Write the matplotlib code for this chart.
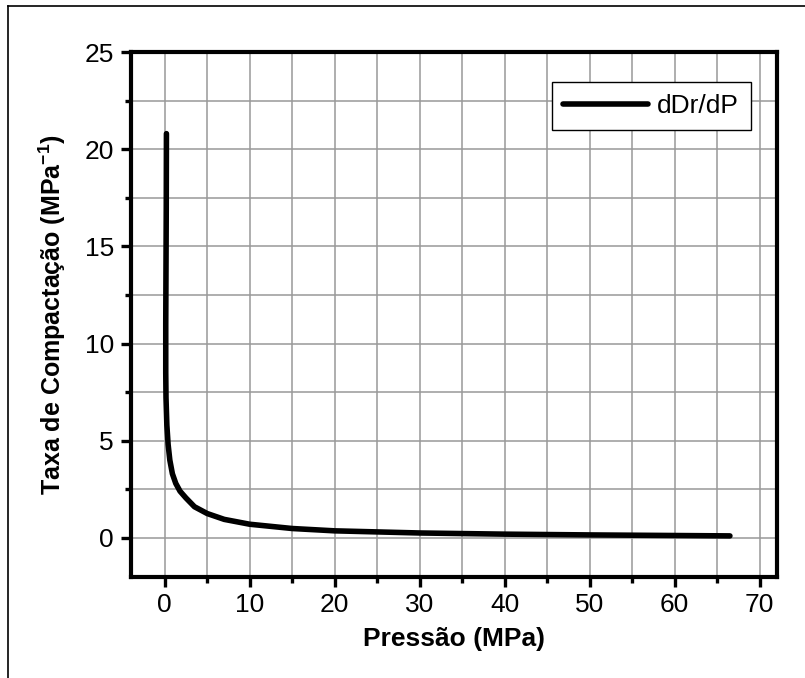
import matplotlib
matplotlib.use("Agg")
import matplotlib.pyplot as plt
from matplotlib.lines import Line2D
from matplotlib.ticker import MultipleLocator

plt.rcParams['font.family'] = ['Liberation Sans', 'DejaVu Sans']
plt.rcParams['mathtext.fontset'] = 'custom'
plt.rcParams['mathtext.rm'] = 'Liberation Sans'
plt.rcParams['mathtext.bf'] = 'Liberation Sans:bold'

# Data
pressure = [0.2, 0.18, 0.15, 0.12, 0.12, 0.15, 0.25, 0.4, 0.6, 0.9, 1.3, 1.8,
            2.5, 3.5, 5.0, 7.0, 10.0, 15.0, 20.0, 30.0, 40.0, 50.0, 60.0, 66.5]
rate = [20.8, 17.0, 14.0, 11.0, 8.5, 7.2, 5.8, 4.8, 4.0, 3.3, 2.8, 2.4,
        2.05, 1.6, 1.25, 0.95, 0.7, 0.48, 0.36, 0.25, 0.19, 0.15, 0.12, 0.1]
series_label = "dDr/dP"
xlabel = "Pressão (MPa)"
ylabel = r"Taxa de Compactação (MPa$^{\mathbf{-1}}$)"

fig = plt.figure(figsize=(8.05, 6.78), dpi=100)
ax = fig.add_axes([0.1624, 0.1494, 0.8024, 0.7739])

ax.plot(pressure, rate, color='black', lw=4, solid_capstyle='round',
        solid_joinstyle='round', label=series_label, zorder=3)

ax.set_xlim(-4, 72)
ax.set_ylim(-2, 25)
ax.xaxis.set_major_locator(MultipleLocator(10))
ax.xaxis.set_minor_locator(MultipleLocator(5))
ax.yaxis.set_major_locator(MultipleLocator(5))
ax.yaxis.set_minor_locator(MultipleLocator(2.5))
ax.grid(True, which='both', color='#999999', lw=1.1, zorder=0)
ax.set_axisbelow(True)

for s in ax.spines.values():
    s.set_linewidth(3)
ax.tick_params(which='major', direction='out', length=7, width=2.4, labelsize=19,
               pad=5, top=False, right=False)
ax.tick_params(which='minor', direction='out', length=4, width=2.4,
               top=False, right=False)

ax.set_xlabel(xlabel, fontsize=19, fontweight='bold', labelpad=7)
ax.set_ylabel(ylabel, fontsize=18, fontweight='bold', labelpad=12)

leg = ax.legend(loc='upper right', bbox_to_anchor=(0.96, 0.943), fontsize=19,
                frameon=True, fancybox=False, edgecolor='black', framealpha=1,
                handlelength=3.2, handletextpad=0.35, borderpad=0.45,
                borderaxespad=0)
leg.get_frame().set_linewidth(1)
for h in leg.get_lines():
    h.set_linewidth(4)

# outer frame (left and top edges visible)
W, H = 805, 678
fig.add_artist(Line2D([8 / W, 8 / W], [0, 1 - 6 / H], transform=fig.transFigure,
                      color='black', lw=1.2))
fig.add_artist(Line2D([8 / W, 1], [1 - 6 / H, 1 - 6 / H], transform=fig.transFigure,
                      color='black', lw=1.2))

fig.savefig("out.png", dpi=100)
